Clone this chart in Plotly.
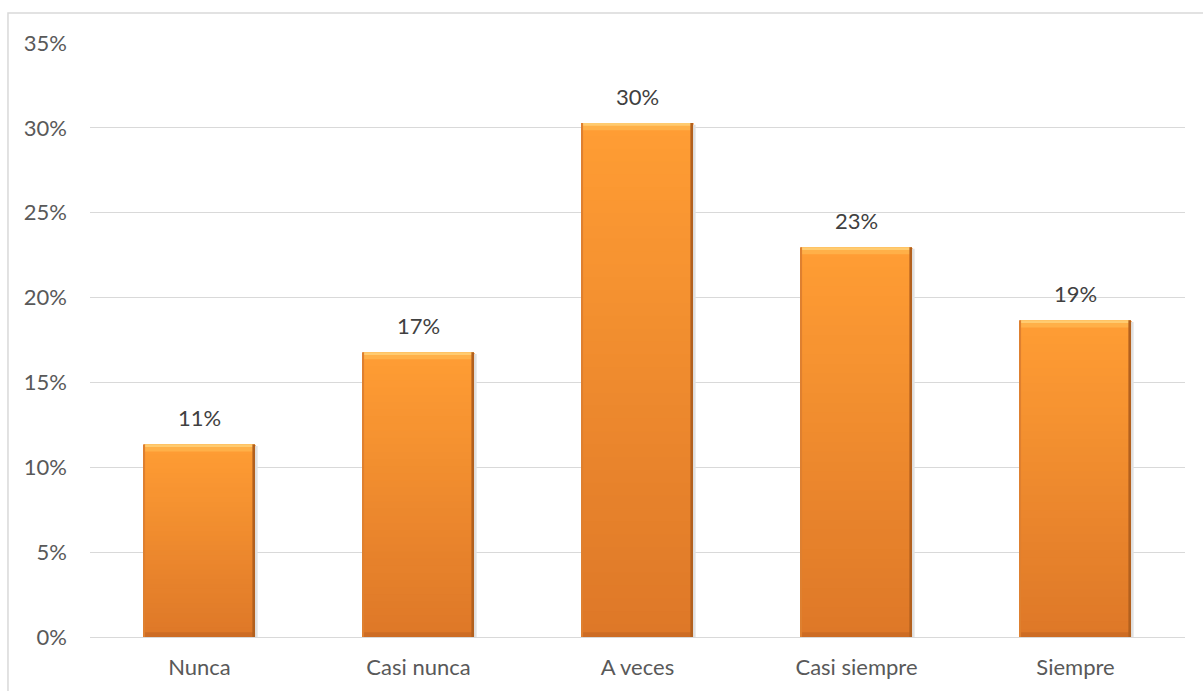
import plotly.graph_objects as go

# Survey response frequencies (percent of respondents)
categories = ["Nunca", "Casi nunca", "A veces", "Casi siempre", "Siempre"]
values = [11.35, 16.78, 30.28, 22.97, 18.66]
y_ticks = [0, 5, 10, 15, 20, 25, 30, 35]
y_tick_labels = [f"{t}%" for t in y_ticks]

BAR_W = 0.507
HALF = BAR_W / 2
FONT = "Lato, Open Sans, sans-serif"


def mix(c1, c2, t):
    return "rgb({},{},{})".format(*[round(a + (b - a) * t) for a, b in zip(c1, c2)])


TOP = (255, 157, 52)
BOTTOM = (222, 120, 40)

fig = go.Figure()

# vertical gradient body: each layer runs from its start height to the bar top,
# later (lighter) layers cover the upper part of earlier ones
N = 40
for k in range(N):
    t = k / (N - 1)
    fig.add_trace(go.Bar(
        x=categories,
        y=[v * (N - k) / N for v in values],
        base=[v * k / N for v in values],
        width=BAR_W, offset=-HALF,
        marker=dict(color=mix(BOTTOM, TOP, t), line=dict(width=0)),
        hoverinfo="skip", showlegend=False,
    ))

# soft shadow on the right of each bar
fig.add_trace(go.Bar(
    x=categories, y=[v - 0.1 for v in values],
    width=0.012, offset=HALF,
    marker=dict(color="rgb(225,225,225)", line=dict(width=0)),
    hoverinfo="skip", showlegend=False,
))

# bevel: bright top band, darker bottom band and side edges
top_band = 0.42
fig.add_trace(go.Bar(
    x=categories, y=[top_band] * len(values), base=[v - top_band for v in values],
    width=BAR_W, offset=-HALF,
    marker=dict(color="rgb(255,176,72)", line=dict(width=0)),
    hoverinfo="skip", showlegend=False,
))
fig.add_trace(go.Bar(
    x=categories, y=[0.16] * len(values), base=[v - 0.16 for v in values],
    width=BAR_W, offset=-HALF,
    marker=dict(color="rgb(255,203,112)", line=dict(width=0)),
    hoverinfo="skip", showlegend=False,
))
fig.add_trace(go.Bar(
    x=categories, y=[0.28] * len(values), base=[0] * len(values),
    width=BAR_W, offset=-HALF,
    marker=dict(color="rgb(205,108,36)", line=dict(width=0)),
    hoverinfo="skip", showlegend=False,
))
edge = 0.012
fig.add_trace(go.Bar(
    x=categories, y=values,
    width=edge, offset=HALF - edge,
    marker=dict(color="rgb(178,96,30)", line=dict(width=0)),
    hoverinfo="skip", showlegend=False,
))
fig.add_trace(go.Bar(
    x=categories, y=values,
    width=0.005, offset=-HALF,
    marker=dict(color="rgb(222,128,48)", line=dict(width=0)),
    hoverinfo="skip", showlegend=False,
))

# value labels above each bar
for c, v in zip(categories, values):
    fig.add_annotation(
        x=c, y=v, text=f"{round(v)}%", showarrow=False,
        yanchor="bottom", yshift=11,
        font=dict(family=FONT, size=22, color="#404040"),
    )

# outer chart frame
fig.add_shape(
    type="rect", xref="paper", yref="paper",
    x0=-0.0749, x1=1.05, y0=-0.15, y1=1.0505,
    line=dict(color="#D9D9D9", width=1.5), fillcolor="rgba(0,0,0,0)",
    layer="below",
)

fig.update_layout(
    width=1203, height=691,
    margin=dict(l=90, r=18, t=43, b=54),
    paper_bgcolor="white", plot_bgcolor="white",
    barmode="overlay", bargap=0.49,
    font=dict(family=FONT, size=22, color="#595959"),
    showlegend=False,
)
fig.update_xaxes(
    showgrid=False, showline=False, zeroline=False, ticks="",
    ticklabelstandoff=15,
    tickfont=dict(family=FONT, size=22, color="#595959"),
)
fig.update_yaxes(
    range=[0, 35], tickvals=y_ticks, ticktext=y_tick_labels,
    showgrid=True, gridcolor="#D9D9D9", gridwidth=1.3,
    zeroline=True, zerolinecolor="#D9D9D9", zerolinewidth=1.3,
    showline=False, ticks="", ticklabelstandoff=22,
    tickfont=dict(family=FONT, size=22, color="#595959"),
)

fig.write_html("out.html")
